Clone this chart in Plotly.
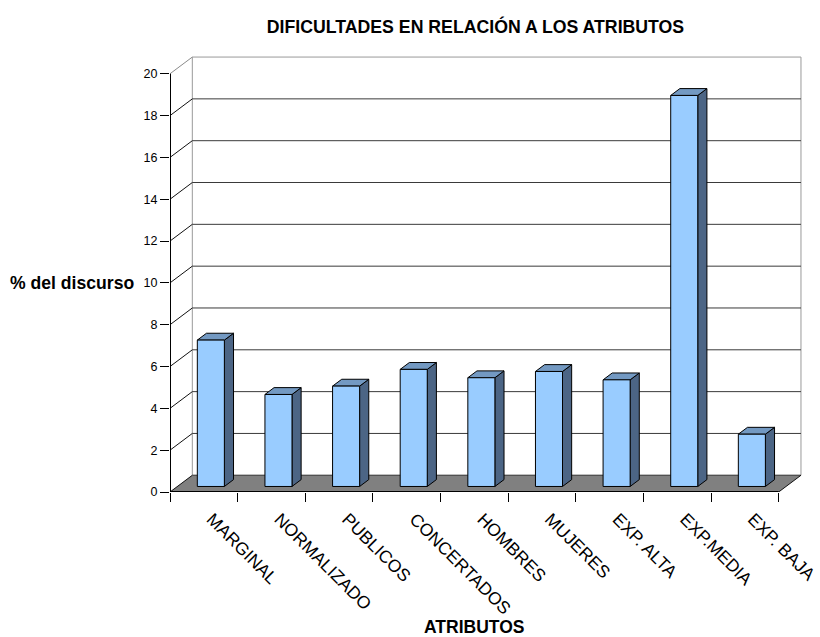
import plotly.graph_objects as go

# ---- data -------------------------------------------------------------
categories = ["MARGINAL", "NORMALIZADO", "PUBLICOS", "CONCERTADOS", "HOMBRES",
              "MUJERES", "EXP. ALTA", "EXP.MEDIA", "EXP. BAJA"]
values = [7.0, 4.4, 4.8, 5.6, 5.2, 5.5, 5.1, 18.7, 2.5]
y_ticks = list(range(0, 21, 2))

title_text = "DIFICULTADES EN RELACIÓN A LOS ATRIBUTOS"
y_title = "% del discurso"
x_title = "ATRIBUTOS"

# ---- 3-D box geometry (axis units) -------------------------------------
DX, DY = 0.33, 0.8            # shift from front plane to back wall
Z_FRONT, Z_BACK = 0.33, 0.74  # depth span of the columns
BAR_L, BAR_R = 0.295, 0.695   # column span inside each category
n = len(categories)
y_max = max(y_ticks)

FONT = "Liberation Sans, Arial, sans-serif"
FRONT, TOP, SIDE = "#99CCFF", "#7399C2", "#4C6585"

fig = go.Figure()


def add_path(xs, ys, color, width=1.0, fill=None):
    fig.add_trace(go.Scatter(
        x=xs, y=ys, mode="lines",
        line=dict(color=color, width=width),
        fill="toself" if fill else None, fillcolor=fill,
        hoverinfo="skip", showlegend=False))


def shift(x, y, z):
    return x + z * DX, y + z * DY


# floor
add_path([0, n, n + DX, DX, 0], [0, 0, DY, DY, 0], "rgba(0,0,0,0)", 0, fill="#808080")
# back wall
add_path([DX, n + DX, n + DX, DX, DX], [DY, DY, y_max + DY, y_max + DY, DY],
         "#9a9a9a", 1, fill="#FFFFFF")

# gridlines on the back wall and their diagonals on the side wall
gx, gy = [], []
for v in y_ticks[:-1]:
    gx += [DX, n + DX, None]
    gy += [v + DY, v + DY, None]
add_path(gx, gy, "#3a3a3a", 1)
dx_, dy_ = [], []
for v in y_ticks[:-1]:
    dx_ += [0, DX, None]
    dy_ += [v, v + DY, None]
add_path(dx_, dy_, "#111111", 1)
add_path([0, DX], [y_max, y_max + DY], "#8a8a8a", 1)
# right edge of the floor
add_path([n, n + DX], [0, DY], "#111111", 1)

# front axis lines
add_path([0, 0], [0, y_max], "#000000", 2)
add_path([0, n], [0, 0], "#000000", 2)

# columns
fx, fy, sx, sy, tx, ty = [], [], [], [], [], []
for i, v in enumerate(values):
    xl, xr = i + BAR_L, i + BAR_R
    xlf, y0f = shift(xl, 0, Z_FRONT)
    xrf, _ = shift(xr, 0, Z_FRONT)
    xlb, y0b = shift(xl, 0, Z_BACK)
    xrb, _ = shift(xr, 0, Z_BACK)
    y1f, y1b = y0f + v, y0b + v
    fx += [xlf, xrf, xrf, xlf, xlf, None]
    fy += [y0f, y0f, y1f, y1f, y0f, None]
    sx += [xrf, xrb, xrb, xrf, xrf, None]
    sy += [y0f, y0b, y1b, y1f, y0f, None]
    tx += [xlf, xrf, xrb, xlb, xlf, None]
    ty += [y1f, y1f, y1b, y1b, y1f, None]
add_path(sx, sy, "#000000", 1, fill=SIDE)
add_path(tx, ty, "#000000", 1, fill=TOP)
add_path(fx, fy, "#000000", 1, fill=FRONT)

fig.update_layout(
    width=820, height=637,
    margin=dict(l=170, r=16.6, t=56.2, b=145, pad=0, autoexpand=False),
    paper_bgcolor="white", plot_bgcolor="white",
    font=dict(family=FONT, color="black"),
    showlegend=False,
    title=dict(text="<b>" + title_text + "</b>", font=dict(size=17.7, family=FONT),
               xref="container", x=475.5 / 820, xanchor="center",
               yref="container", y=1 - 26.5 / 637, yanchor="middle",
               automargin=False),
    xaxis=dict(range=[0, n + DX + 0.03], tickmode="array",
               tickvals=[i + 0.5 for i in range(n)], ticktext=categories,
               tickangle=45, ticks="outside", ticklen=9, ticklabelshift=8,
               tickcolor="rgba(0,0,0,0)", tickfont=dict(size=17.5, family=FONT),
               minor=dict(tickmode="array", tickvals=list(range(n + 1)),
                          ticks="outside", ticklen=9, tickcolor="black", tickwidth=1),
               showgrid=False, zeroline=False, showline=False, fixedrange=True,
               automargin=False),
    yaxis=dict(range=[0, y_max + DY + 0.05], tickmode="array", tickvals=y_ticks,
               ticks="outside", ticklen=9, tickcolor="black", tickwidth=1,
               tickfont=dict(size=12.5, family=FONT),
               showgrid=False, zeroline=False, showline=False, fixedrange=True,
               automargin=False),
    annotations=[
        dict(text="<b>" + y_title + "</b>", xref="paper", x=0, xanchor="right",
             xshift=-34, yref="y", y=10, yanchor="middle", showarrow=False,
             font=dict(size=17.6, family=FONT)),
        dict(text="<b>" + x_title + "</b>", xref="x", x=n / 2, xanchor="center",
             yref="paper", y=0, yanchor="middle", yshift=-135, showarrow=False,
             font=dict(size=17.5, family=FONT)),
    ],
)

fig.write_html("out.html")
